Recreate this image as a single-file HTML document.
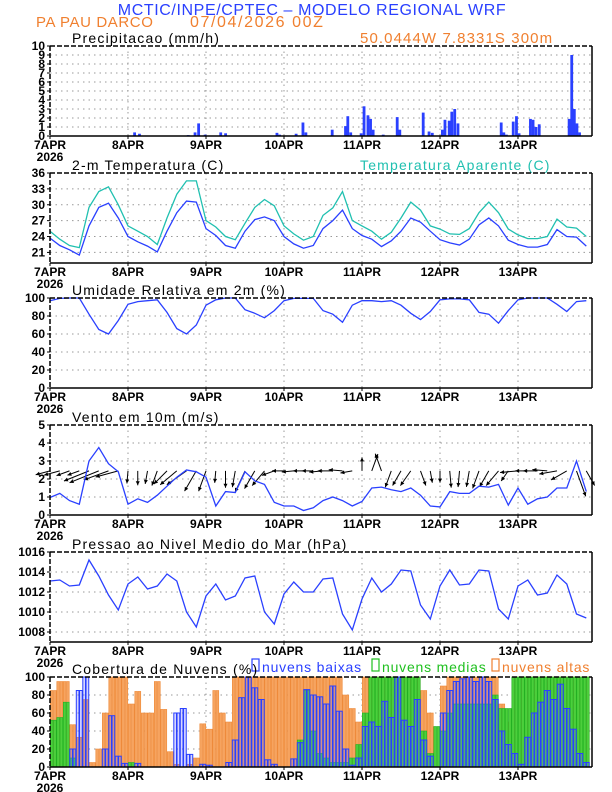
<!DOCTYPE html>
<html><head><meta charset="utf-8"><style>
html,body{margin:0;padding:0;background:#fff;}
svg{display:block;font-family:"Liberation Sans",sans-serif;}
</style></head><body>
<svg id="chart" width="612" height="792" viewBox="0 0 612 792" xmlns="http://www.w3.org/2000/svg">
<text x="312" y="15" text-anchor="middle" font-size="16" letter-spacing="0.6" fill="#2a40ff">MCTIC/INPE/CPTEC – MODELO REGIONAL WRF</text>
<text x="36" y="27" font-size="15" letter-spacing="0.6" fill="#f08030">PA PAU DARCO</text>
<text x="190" y="27" font-size="16" letter-spacing="1.6" fill="#f08030">07/04/2026 00Z</text>
<text x="360" y="43" font-size="15" letter-spacing="1.1" fill="#f08030">50.0444W 7.8331S 300m</text>
<text x="360" y="170" font-size="14" letter-spacing="1.2" fill="#20c0b0">Temperatura Aparente (C)</text>
<rect x="252" y="659" width="7" height="12" fill="none" stroke="#2a40ff" stroke-width="1.2"/>
<text x="262" y="672" font-size="14" letter-spacing="0.8" fill="#2a40ff">nuvens baixas</text>
<rect x="372" y="659" width="7" height="12" fill="none" stroke="#20c020" stroke-width="1.2"/>
<text x="382" y="672" font-size="14" letter-spacing="0.8" fill="#20c020">nuvens medias</text>
<rect x="492" y="659" width="7" height="12" fill="none" stroke="#f08030" stroke-width="1.2"/>
<text x="502" y="672" font-size="14" letter-spacing="0.8" fill="#f08030">nuvens altas</text>
</svg>
<script>
// ---- data (hour 0 = 7APR 00Z) ----
const dayLabels = ["7APR","8APR","9APR","10APR","11APR","12APR","13APR"];
const precipHours = [26,27.5,42.5,44.6,45.7,47.7,52.5,54,69.8,70.6,75.7,77.8,78.7,86.8,90.9,91.6,92.5,95.7,96.6,97.8,98.6,99.4,102.5,106.8,107.6,114.8,116.6,117.6,120.7,121.5,122.8,123.6,124.5,125.5,138.8,139.6,140.4,142.5,143.5,144.3,147.8,148.6,149.5,150.5,159.7,160.5,161.3,162.1,162.9];
const precipValues = [0.4,0.25,0.1,0.4,1.4,0.15,0.4,0.3,0.35,0.15,0.25,1.5,0.4,0.7,1.1,2.2,0.4,0.3,3.3,2.3,1.9,0.7,0.15,2.1,0.7,2.6,0.5,0.35,0.7,1.8,1.7,2.7,3.0,1.4,1.5,0.4,0.15,1.6,2.2,0.3,1.9,1.8,1.0,1.3,1.9,9.0,3.0,1.4,0.4];
const tempValues = [23.7,22.3,21.5,20.5,26,29.5,30.3,27.5,24,23,22.2,21.1,25,28.5,30.7,30.5,25.5,24.2,22.3,21.8,25,27.2,27.7,27,24,22.6,21.8,22.3,25.5,27,29,25.5,24.2,23.5,22.1,23.2,25,27.5,26.7,25,23.4,22.8,22.4,23.5,26.2,27.5,26,23.3,22.5,22,22,22.5,25.3,24,23.9,22.2];
const apparentValues = [25,23.5,22.3,21.9,29.5,32.5,33.4,30,26,25,24,22.5,27.5,32,34.5,34.5,27,25.8,24,23.4,26.5,29.5,31,29.8,26,24.5,23.3,24,28,29.4,32.5,27,26,25,23.5,24.8,27.5,30.5,29,26,25.4,24.5,24.4,25.5,28.5,30.5,28.5,25.4,24.3,23.6,23.6,24,27.3,25.8,25.6,24];
const rhValues = [97,99.5,100,100,82,65,60,75,93,96,97,98,84,66,60,70,92,98,100,100,87,83,78,86,97,99.6,99.6,99.6,86,82,73,92,97,97,96,97,92,83,76,85,98,99,99,98,84,82,72,86,98,100,100,100,93,85,96,97];
const windSpeed = [0.97,1.2,0.8,0.6,3.0,3.75,2.85,2.4,0.6,0.9,0.7,1.1,1.6,2.1,2.5,2.4,2.1,0.5,1.3,1.25,2.4,1.9,1.7,0.7,0.5,0.5,0.25,0.4,0.8,1.0,0.8,0.5,0.75,1.5,1.55,1.4,1.3,1.5,1.1,0.5,0.45,1.3,1.2,1.2,1.6,1.55,1.7,0.55,1.5,0.6,0.9,1.0,1.5,1.5,3.0,1.3];
const windAngle = [165,165,160,160,158,158,160,165,95,90,100,110,135,140,145,120,110,95,90,100,115,120,130,160,180,175,180,180,175,180,185,170,-90,-70,-110,110,120,125,70,80,90,85,95,100,110,120,130,125,175,180,180,185,170,150,70,60];
const pressureValues = [1013.1,1013.2,1012.6,1012.7,1015.2,1013.6,1011.7,1010.2,1012.8,1013.5,1012.3,1012.6,1013.8,1013.1,1010,1008.5,1011.6,1012.8,1011.2,1011.6,1013.4,1013.6,1010,1008.8,1011.8,1013,1012,1012,1013.3,1013.4,1009.8,1008.2,1011.3,1013.4,1012,1012.8,1014.2,1014.1,1010.7,1009.3,1012.6,1014.2,1012.7,1012.8,1014.2,1014.1,1010.3,1009.3,1012.6,1013.2,1011.7,1011.9,1013.7,1012.8,1009.8,1009.4];
const cloudLow = [0,0,0,20,85,100,0,0,20,57,12,4,0,4,0,0,0,0,0,60,65,14,0,3,2,0,0,5,30,77,100,88,75,8,3,0,0,9,27,86,80,78,70,90,62,20,2,10,45,50,45,73,55,100,52,45,75,30,12,0,60,85,95,98,100,95,100,95,75,40,25,15,3,33,60,72,85,75,92,65,42,15,5,2];
const cloudMid = [52,55,72,10,0,0,0,0,0,0,0,0,5,0,0,0,0,0,0,0,0,0,0,0,0,0,0,0,0,0,0,0,0,0,0,0,0,0,30,85,40,15,10,5,5,5,10,25,60,100,100,100,100,100,100,100,100,40,15,45,40,60,70,70,70,70,70,70,80,65,65,100,100,100,100,100,100,100,100,100,100,100,100,100];
const cloudHigh = [85,95,95,47,33,75,5,20,60,100,100,100,70,84,60,60,95,64,17,3,0,3,10,48,42,85,60,50,100,100,100,100,100,100,100,100,100,100,100,100,100,100,100,100,100,80,65,50,100,100,100,100,100,100,100,100,100,85,60,0,90,100,100,100,100,100,100,100,100,70,50,100,100,100,100,100,100,100,100,100,100,100,100,100];

const NS = "http://www.w3.org/2000/svg";
const svg = document.getElementById("chart");
const L = 50, R = 592, H = 90;
const X = h => L + h * 3.25;
function mk(tag, attrs, parent) {
  const e = document.createElementNS(NS, tag);
  for (const k in attrs) e.setAttribute(k, attrs[k]);
  (parent || svg).appendChild(e);
  return e;
}
function panel(name, title, top, ymin, ymax, ticks) {
  const g = mk("g", {});
  
  
  const Y = v => top + (ymax - v) / (ymax - ymin) * H;
  ticks.forEach(t => {
    if (t > ymin && t < ymax) {
      const gl = mk("line", {x1: L, x2: R, y1: Y(t), y2: Y(t), stroke: "#999", "stroke-width": 1, "stroke-dasharray": "1.5,4"}, g);
      
      
    }
    const tl = mk("text", {x: 45, y: Y(t) + 4, "text-anchor": "end", "font-size": 12, "font-weight": "bold", fill: "#000"}, g);
    
    
    tl.textContent = String(t);
    mk("line", {x1: L - 3, x2: L, y1: Y(t), y2: Y(t), stroke: "#000"}, g);
  });
  for (let d = 1; d < 7; d++) {
    const dl = mk("line", {x1: X(24 * d), x2: X(24 * d), y1: top, y2: top + H, stroke: "#999", "stroke-width": 1, "stroke-dasharray": "1.5,4"}, g);
    
    
  }
  dayLabels.forEach((lb, d) => {
    const t = mk("text", {x: X(24 * d), y: top + H + 13, "text-anchor": "middle", "font-size": 12, "font-weight": "bold", fill: "#000"}, g);
    
    
    t.textContent = lb;
    mk("line", {x1: X(24 * d), x2: X(24 * d), y1: top + H, y2: top + H + 3, stroke: "#000"}, g);
  });
  const yr = mk("text", {x: X(0), y: top + H + 25, "text-anchor": "middle", "font-size": 12, "font-weight": "bold", fill: "#000"}, g);
  
  
  yr.textContent = "2026";
  const tt = mk("text", {x: 72, y: top - 3, "font-size": 14, "letter-spacing": 1.2, fill: "#000"}, g);
  
  
  tt.textContent = title;
  return {g, Y, top};
}
function frame(p) {
  const f = mk("g", {});
  
  
  mk("line", {x1: L, x2: R, y1: p.top, y2: p.top, stroke: "#000", "stroke-width": 1.5, "stroke-dasharray": "5,2"}, f);
  mk("line", {x1: L, x2: L, y1: p.top, y2: p.top + H, stroke: "#000", "stroke-width": 1.5, "stroke-dasharray": "5,2"}, f);
  mk("line", {x1: R, x2: R, y1: p.top, y2: p.top + H, stroke: "#000", "stroke-width": 1.5}, f);
  mk("line", {x1: L, x2: R, y1: p.top + H, y2: p.top + H, stroke: "#000", "stroke-width": 1.5}, f);
}
function line(p, vals, step, color, name) {
  const d = vals.map((v, i) => (i ? "L" : "M") + X(i * step).toFixed(1) + "," + p.Y(v).toFixed(1)).join("");
  const e = mk("path", {d, fill: "none", stroke: color, "stroke-width": 1.3}, p.g);
  
  
}

const p1 = panel("precip", "Precipitacao (mm/h)", 46, 0, 10, [0,1,2,3,4,5,6,7,8,9,10]);
precipHours.forEach((h, i) => {
  const b = mk("rect", {x: X(h) - 1.3, y: p1.Y(precipValues[i]), width: 2.8, height: p1.Y(0) - p1.Y(precipValues[i]), fill: "#2a40ff"}, p1.g);
  
  
});
frame(p1);

const p2 = panel("temperature", "2-m Temperatura (C)", 173, 19, 36, [21,24,27,30,33,36]);
line(p2, apparentValues, 3, "#20c0b0", "apparent-temp-line");
line(p2, tempValues, 3, "#2a40ff", "temperature-line");
frame(p2);

const p3 = panel("humidity", "Umidade Relativa em 2m (%)", 298, 0, 100, [0,20,40,60,80,100]);
line(p3, rhValues, 3, "#2a40ff", "humidity-line");
frame(p3);

const p4 = panel("wind", "Vento em 10m (m/s)", 425, 0, 5, [0,1,2,3,4,5]);
windAngle.forEach((a, i) => {
  const x0 = X(i * 3), y0 = p4.Y(2.45);
  const len = 9 + windSpeed[i] * 6;
  const r = a * Math.PI / 180;
  const x1 = x0 + Math.cos(r) * len, y1 = y0 + Math.sin(r) * len;
  const ag = mk("g", {}, p4.g);
  
  
  mk("line", {x1: x0, y1: y0, x2: x1, y2: y1, stroke: "#000", "stroke-width": 1}, ag);
  const hx = Math.cos(r), hy = Math.sin(r);
  mk("path", {d: `M${x1},${y1}L${x1 - 4*hx + 2*hy},${y1 - 4*hy - 2*hx}L${x1 - 4*hx - 2*hy},${y1 - 4*hy + 2*hx}Z`, fill: "#000"}, ag);
});
line(p4, windSpeed, 3, "#2a40ff", "wind-speed-line");
frame(p4);

const p5 = panel("pressure", "Pressao ao Nivel Medio do Mar (hPa)", 552, 1007, 1016, [1008,1010,1012,1014,1016]);
line(p5, pressureValues, 3, "#2a40ff", "pressure-line");
frame(p5);

const p6 = panel("clouds", "Cobertura de Nuvens (%)", 677, 0, 100, [0,20,40,60,80,100]);
function bars(vals, fill, stroke, sw, name) {
  vals.forEach((v, i) => {
    for (let k = 0; k < 2; k++) {
      const h = i * 2 + k;
      if (X(h) + 3 > R) continue;
      const b = mk("rect", {x: X(h) + 0.3, y: p6.Y(v), width: 2.7, height: Math.max(0, p6.Y(0) - p6.Y(v)), fill, stroke, "stroke-width": sw}, p6.g);
      
      
    }
  });
}
bars(cloudHigh, "#f6a460", "#ee8a3a", 0.6, "high-cloud-bar");
bars(cloudMid, "#4ccf3c", "#22b022", 0.6, "mid-cloud-bar");
bars(cloudLow, "rgba(90,90,255,0.25)", "#2a40ff", 1, "low-cloud-bar");
frame(p6);
</script>
</body></html>
